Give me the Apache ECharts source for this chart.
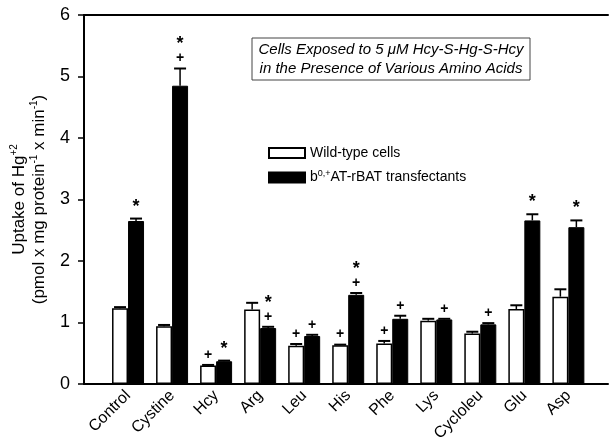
<!DOCTYPE html>
<html>
<head>
<meta charset="utf-8">
<script src="https://cdn.jsdelivr.net/npm/echarts@6/dist/echarts.min.js"></script>
<style>
  html, body { margin: 0; padding: 0; background: #fff; }
  #chart { width: 609px; height: 444px; }
</style>
</head>
<body>
<div id="chart"></div>
<script>
const categories = ['Control', 'Cystine', 'Hcy', 'Arg', 'Leu', 'His', 'Phe', 'Lys', 'Cycloleu', 'Glu', 'Asp']
const wildValues = [1.23, 0.94, 0.30, 1.21, 0.62, 0.63, 0.66, 1.03, 0.82, 1.22, 1.42]
const wildErrors = [0.02, 0.02, 0.01, 0.11, 0.03, 0.01, 0.04, 0.03, 0.03, 0.06, 0.12]
const transValues = [2.65, 4.85, 0.37, 0.91, 0.78, 1.45, 1.06, 1.05, 0.97, 2.66, 2.55]
const transErrors = [0.04, 0.28, 0.01, 0.02, 0.02, 0.03, 0.05, 0.01, 0.02, 0.10, 0.11]
// significance marks, listed top to bottom
const wildMarks = ['', '', '+', '', '+', '+', '+', '', '', '', '']
const transMarks = ['*', '*+', '*', '*+', '+', '*+', '+', '+', '+', '*', '*']
const yTicks = [0, 1, 2, 3, 4, 5, 6]

const font = 'Liberation Sans, Arial, sans-serif'

function errorSeries(values, errors, marks, shift){
	return {
		type: 'custom',
		z: 5,
		data: values.map((v, i) => [i, v, errors[i]]),
		renderItem: (params, api) => {
			const i = api.value(0)
			const v = api.value(1)
			const e = api.value(2)
			const p0 = api.coord([i, v])
			const p1 = api.coord([i, v + e])
			const cx = p0[0] + shift
			const children = [
				{ type: 'line', shape: { x1: cx, y1: p0[1], x2: cx, y2: p1[1] }, style: { stroke: '#000', lineWidth: 1.5 } },
				{ type: 'line', shape: { x1: cx - 6, y1: p1[1], x2: cx + 6, y2: p1[1] }, style: { stroke: '#000', lineWidth: 2 } }
			]
			const m = marks[params.dataIndex].split('').reverse()
			m.forEach((ch, k) => {
				children.push({
					type: 'text',
					style: {
						text: ch,
						x: cx,
						y: p1[1] - 3 - k * 12,
						align: 'center',
						verticalAlign: 'bottom',
						font: (ch === '*' ? 'bold 18px ' : 'bold 14px ') + font,
						fill: '#000'
					}
				})
			})
			return { type: 'group', children: children }
		}
	}
}

const chart = echarts.init(document.getElementById('chart'))

const option = {
	animation: false,
	backgroundColor: '#fff',
	grid: {
		left: 84,
		right: 1,
		top: 15,
		bottom: 60,
		containLabel: false,
		outerBoundsMode: 'none'
	},
	legend: {
		data: ['wild', 'trans'],
		orient: 'vertical',
		left: 263,
		top: 141,
		itemWidth: 36,
		itemHeight: 10,
		itemGap: 9,
		icon: 'rect',
		formatter: name => name === 'wild' ? 'Wild-type cells' : 'b{sup|0,+}AT-rBAT transfectants',
		textStyle: {
			fontFamily: font,
			fontSize: 14,
			color: '#000',
			rich: {
				sup: { fontSize: 9, verticalAlign: 'top', padding: [0, 0, 8, 0], fontFamily: font, color: '#000' }
			}
		}
	},
	xAxis: [
		{
			type: 'value',
			min: -1,
			max: 10.9,
			interval: 1,
			axisLine: { show: true, onZero: false, lineStyle: { color: '#000', width: 2 } },
			axisTick: { show: false },
			splitLine: { show: false },
			axisLabel: {
				rotate: 45,
				margin: 9,
				fontFamily: font,
				fontSize: 16,
				color: '#000',
				formatter: v => categories[v] || ''
			}
		},
		{
			type: 'value',
			position: 'top',
			min: -1,
			max: 10.9,
			axisLine: { show: true, onZero: false, lineStyle: { color: '#000', width: 2 } },
			axisTick: { show: false },
			axisLabel: { show: false },
			splitLine: { show: false }
		}
	],
	yAxis: {
		type: 'value',
		min: yTicks[0],
		max: yTicks[yTicks.length - 1],
		interval: 1,
		axisLine: { show: true, onZero: false, lineStyle: { color: '#000', width: 2 } },
		axisTick: { show: true, length: 6, lineStyle: { color: '#000', width: 1.5 } },
		splitLine: { show: false },
		axisLabel: { fontFamily: font, fontSize: 18, color: '#000', margin: 14 },
		name: 'Uptake of Hg{sup|+2}\n(pmol x mg protein{sup|-1} x min{sup|-1})',
		nameLocation: 'middle',
		nameGap: 32,
		nameTextStyle: {
			fontFamily: font,
			fontSize: 17,
			color: '#000',
			lineHeight: 20,
			rich: {
				sup: { fontSize: 10, verticalAlign: 'top', padding: [0, 0, 10, 0], fontFamily: font, color: '#000' }
			}
		}
	},
	graphic: [
		{
			type: 'rect',
			shape: { x: 252, y: 38, width: 278, height: 42 },
			style: { fill: '#fff', stroke: '#444', lineWidth: 1 }
		},
		{
			type: 'text',
			style: {
				x: 391,
				y: 59,
				align: 'center',
				verticalAlign: 'middle',
				text: 'Cells Exposed to 5 μM Hcy-S-Hg-S-Hcy\nin the Presence of Various Amino Acids',
				font: 'italic 15px ' + font,
				lineHeight: 19,
				fill: '#000'
			}
		}
	],
	series: [
		{
			name: 'wild',
			type: 'bar',
			barWidth: 16,
			barGap: '0%',
			data: wildValues.map((v, i) => [i, v]),
			itemStyle: { color: '#fff', borderColor: '#000', borderWidth: 1.5 }
		},
		{
			name: 'trans',
			type: 'bar',
			barWidth: 16,
			barGap: '0%',
			data: transValues.map((v, i) => [i, v]),
			itemStyle: { color: '#000', borderColor: '#000', borderWidth: 1 }
		},
		errorSeries(wildValues, wildErrors, wildMarks, -8),
		errorSeries(transValues, transErrors, transMarks, 8)
	]
}

chart.setOption(option)
</script>
</body>
</html>
